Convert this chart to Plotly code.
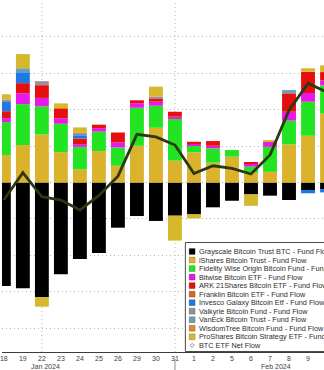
import plotly.graph_objects as go

# Trading days shown on the axis (Jan 18 .. Feb 12, 2024)
days = ["18", "19", "22", "23", "24", "25", "26", "29", "30", "31",
        "1", "2", "5", "6", "7", "8", "9", "12"]

# Daily fund flows, $ millions
grayscale = [-568, -581, -630, -504, -420, -387, -248, -184, -211, -182,
             -175, -136, -100, -65, -72, -96, -41, -36]
ishares = [151, 206, 264, 167, 72, 173, 92, 202, 301, 120,
           166, 109, 142, 54, 59, 210, 257, 379]
fidelity = [181, 225, 155, 156, 124, 107, 101, 209, 121, 229,
            36, 79, 37, 33, 137, 130, 187, 155]
bitwise = [22, 60, 46, 30, 15, 19, 27, 25, 22, 13,
           9, 14, 0, 15, 27, 49, 48, 27]
ark = [38, 55, 70, 55, 31, 19, 55, 16, 19, 27,
       13, 26, 0, 9, 0, 101, 117, 46]
franklin = [0, 0, 0, 0, 0, 0, 0, 0, 0, 0,
            0, 0, 0, 0, 0, 0, 0, 0]
invesco = [55, 60, 0, 0, 18, 0, 0, 0, 0, 0,
           0, 0, 0, 0, 0, 0, -18, -18]
valkyrie = [9, 0, 22, 0, 13, 0, 0, 0, 9, 0,
            0, 0, 0, 0, 0, 0, 0, 0]
vaneck = [0, 22, 0, 0, 0, 0, 0, 0, 0, 0,
          0, 0, 0, 0, 0, 18, 0, 0]
wisdomtree = [0, 0, 0, 0, 0, 0, 0, 0, 0, 0,
              0, 0, 0, 0, 0, 0, 0, 0]
proshares = [29, 78, -52, 27, 30, 0, 0, 0, 55, -137,
             -22, 0, 0, -63, 9, 0, 19, 37]

# Spot bitcoin ETF net flow, $ millions
net_flow = [-96, 54, -78, -96, -151, -71, 35, 265, 251, 206,
            50, 92, 78, 47, 151, 398, 545, 497]

fund_names = [
    "Grayscale Bitcoin Trust BTC - Fund Flow",
    "iShares Bitcoin Trust - Fund Flow",
    "Fidelity Wise Origin Bitcoin Fund - Fund Flow",
    "Bitwise Bitcoin ETF - Fund Flow",
    "ARK 21Shares Bitcoin ETF - Fund Flow",
    "Franklin Bitcoin ETF - Fund Flow",
    "Invesco Galaxy Bitcoin Etf - Fund Flow",
    "Valkyrie Bitcoin Fund - Fund Flow",
    "VanEck Bitcoin Trust - Fund Flow",
    "WisdomTree Bitcoin Fund - Fund Flow",
    "ProShares Bitcoin Strategy ETF - Fund Flow",
]
net_name = "BTC ETF Net Flow"
month_labels = [("22", "Jan 2024", 3.5), ("7", "Feb 2024", 6.3)]

fund_colors = ["#000000", "#dbb22c", "#22e422", "#e818e6", "#e60f0f", "#d8661e",
               "#1c78e4", "#9c8c9c", "#6e9cb4", "#dd8a2a", "#d6b82c"]
net_color = "#2c380f"
grid_color = "#b4b4b4"
grid_dash = "1px,3px"

series = [grayscale, ishares, fidelity, bitwise, ark, franklin,
          invesco, valkyrie, vaneck, wisdomtree, proshares]

W, H = 324, 370
PLOT_W, PLOT_H = 324, 352


def px_x(x):
    return x / PLOT_W


def px_y(y):
    return 1 - y / PLOT_H


fig = go.Figure()
for name, vals, col in zip(fund_names, series, fund_colors):
    fig.add_bar(x=days, y=vals, name=name, showlegend=False,
                marker=dict(color=col, line=dict(width=0)))
fig.add_scatter(x=days, y=net_flow, name=net_name, mode="lines", showlegend=False,
                line=dict(color=net_color, width=2.8))

fig.update_layout(
    barmode="relative", bargap=0.27,
    width=W, height=H, autosize=False,
    margin=dict(l=0, r=0, t=0, b=H - PLOT_H, pad=0),
    plot_bgcolor="white", paper_bgcolor="white",
    font=dict(family="Liberation Sans, Arial, sans-serif", size=7, color="#404040"),
)
fig.update_xaxes(type="category", range=[-0.098, 16.84], showgrid=False,
                 showline=True, linecolor="#3c3c3c", linewidth=1, ticks="",
                 tickfont=dict(size=7, color="#404040"))
fig.update_yaxes(range=[-931, 1003], tick0=0, dtick=200, showgrid=True,
                 gridcolor=grid_color, gridwidth=1, griddash=grid_dash,
                 zeroline=False, showticklabels=False, ticks="")

shapes = []
# vertical dotted guides
for d in ["22", "31"]:
    shapes.append(dict(type="line", xref="x", yref="paper", x0=days.index(d), x1=days.index(d),
                       y0=0, y1=1, layer="below",
                       line=dict(color=grid_color, width=1, dash=grid_dash)))
# month separator below the axis
shapes.append(dict(type="line", xref="x", yref="paper", x0=days.index("31"), x1=days.index("31"),
                   y0=px_y(359), y1=px_y(370), line=dict(color="#8a8a8a", width=1)))

# legend box
shapes.append(dict(type="rect", xref="paper", yref="paper", x0=px_x(184.5), x1=1.2,
                   y0=px_y(351.5), y1=px_y(242.5), layer="above",
                   line=dict(color="#4a4a4a", width=1), fillcolor="white"))

annotations = []
row0, step = 251.5, 8.53
legend_font = dict(size=7.3, color="#2e2e2e")
for i, (name, col) in enumerate(zip(fund_names, fund_colors)):
    cy = row0 + i * step
    shapes.append(dict(type="rect", xref="paper", yref="paper", layer="above",
                       x0=px_x(188.3), x1=px_x(194.3), y0=px_y(cy + 3), y1=px_y(cy - 3),
                       fillcolor=col, line=dict(color="rgba(0,0,0,0.35)", width=0.5)))
    annotations.append(dict(xref="paper", yref="paper", x=px_x(196), y=px_y(cy),
                            xanchor="left", yanchor="middle", showarrow=False, text=name,
                            font=legend_font))
cy = row0 + len(fund_names) * step
cx = 191.3
shapes.append(dict(type="path", xref="paper", yref="paper", layer="above",
                   path=(f"M {px_x(cx)},{px_y(cy - 2)} L {px_x(cx + 2)},{px_y(cy)} "
                         f"L {px_x(cx)},{px_y(cy + 2)} L {px_x(cx - 2)},{px_y(cy)} Z"),
                   fillcolor="white", line=dict(color="#707070", width=0.8)))
annotations.append(dict(xref="paper", yref="paper", x=px_x(196), y=px_y(cy),
                        xanchor="left", yanchor="middle", showarrow=False, text=net_name,
                        font=legend_font))

# month labels under the day ticks
for d, label, shift in month_labels:
    annotations.append(dict(xref="x", yref="paper", x=days.index(d), xshift=shift,
                            y=px_y(366.5), yanchor="middle", xanchor="center",
                            showarrow=False, text=label,
                            font=dict(size=7, color="#404040")))

fig.update_layout(shapes=shapes, annotations=annotations)
fig.write_html("out.html")
